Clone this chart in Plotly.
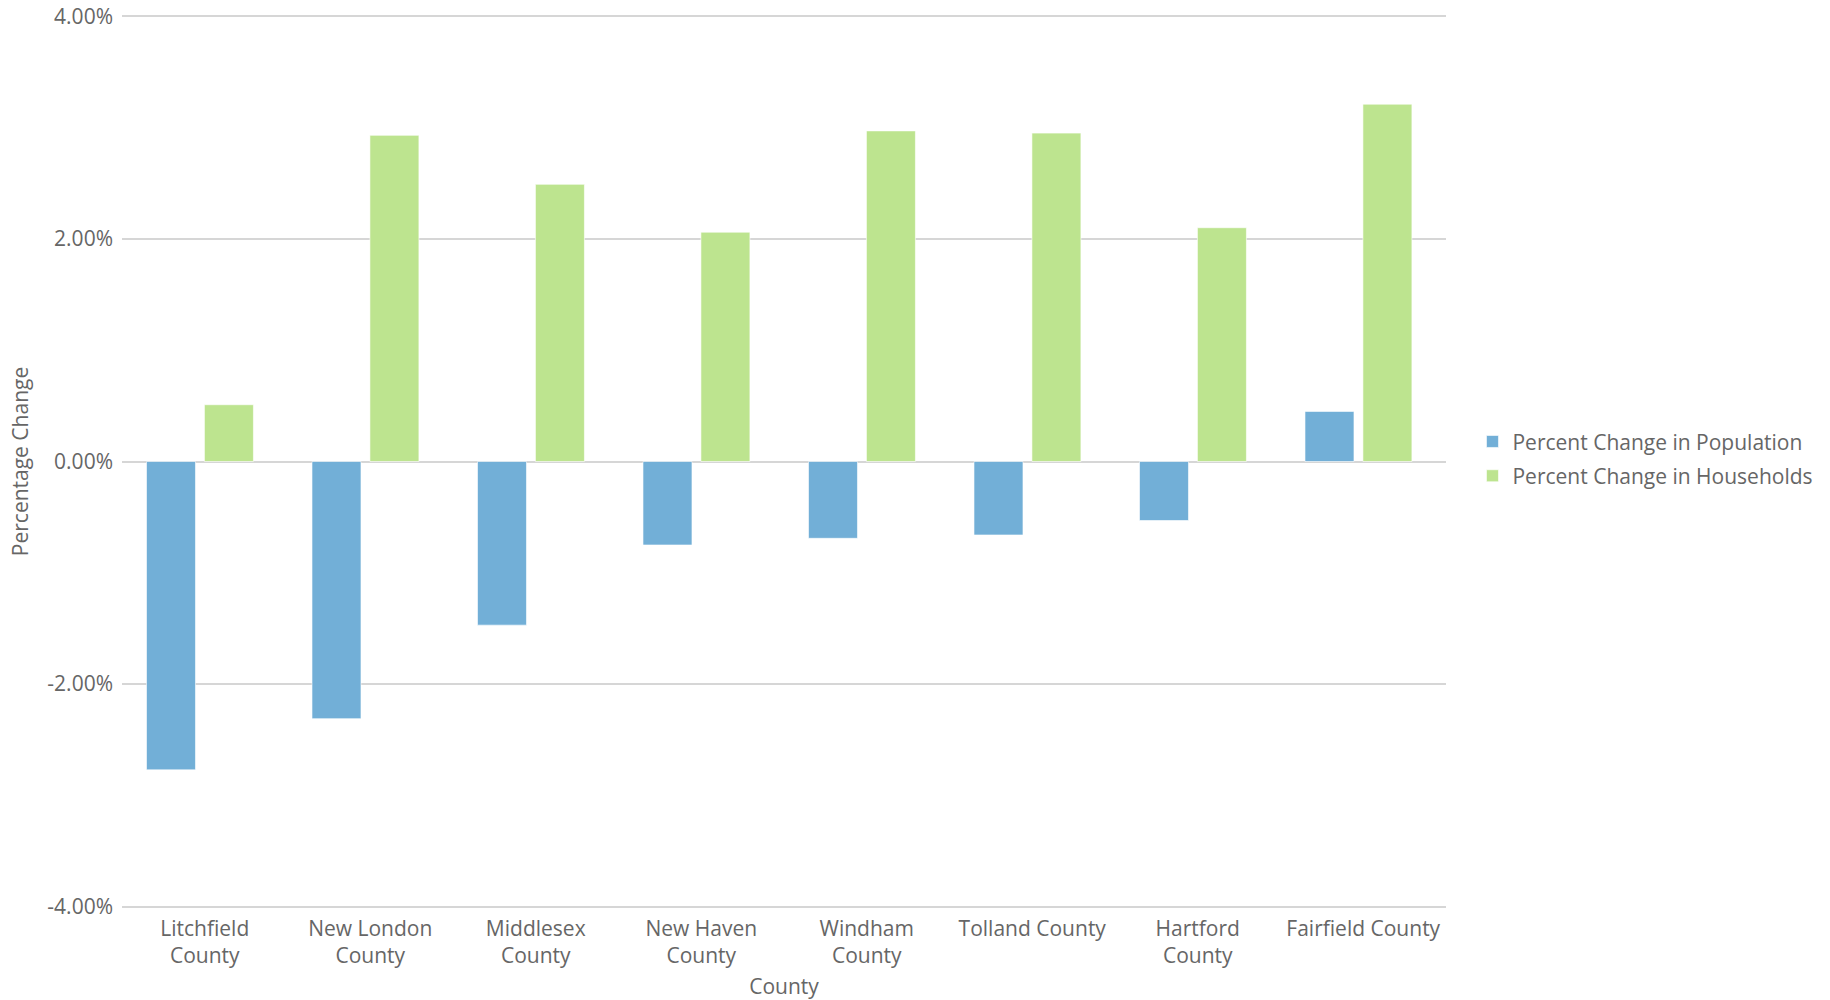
import plotly.graph_objects as go

counties = ["Litchfield County", "New London County", "Middlesex County", "New Haven County",
            "Windham County", "Tolland County", "Hartford County", "Fairfield County"]
tick_labels = ["Litchfield<br>County", "New London<br>County", "Middlesex<br>County", "New Haven<br>County",
               "Windham<br>County", "Tolland County", "Hartford<br>County", "Fairfield County"]
pop_change = [-2.77, -2.31, -1.47, -0.75, -0.69, -0.66, -0.53, 0.45]
hh_change = [0.51, 2.93, 2.49, 2.06, 2.97, 2.95, 2.10, 3.21]
y_ticks = [-4, -2, 0, 2, 4]
y_tick_labels = ["-4.00%", "-2.00%", "0.00%", "2.00%", "4.00%"]

FONT = "Open Sans"
GRAY = "#666666"
FS = 21

fig = go.Figure()
fig.add_trace(go.Bar(x=counties, y=pop_change, name="Percent Change in Population",
                     width=0.296, offset=-0.352, legendgroup="pop",
                     marker=dict(color="#72afd7", line=dict(color="rgba(255,255,255,0.6)", width=1))))
fig.add_trace(go.Bar(x=counties, y=hh_change, name="Percent Change in Households",
                     width=0.296, offset=-0.002, legendgroup="hh",
                     marker=dict(color="#bde48f", line=dict(color="rgba(255,255,255,0.6)", width=1))))

fig.update_layout(
    width=1830, height=1000,
    margin=dict(l=122, r=382, t=14, b=91),
    paper_bgcolor="white", plot_bgcolor="white",
    font=dict(family=FONT, size=FS, color=GRAY),
    barmode="overlay",
    legend=dict(x=1.02, y=0.503, yanchor="middle", xanchor="left",
                font=dict(family=FONT, size=FS, color=GRAY), tracegroupgap=4),
    xaxis=dict(tickvals=counties, ticktext=tick_labels, showgrid=False, showline=False,
               ticks="", tickfont=dict(size=FS, color=GRAY), automargin=False,
               ticklabelstandoff=5,
               title=dict(text="County", font=dict(size=FS, color=GRAY), standoff=14)),
    yaxis=dict(range=[-4.02, 4.02], tickvals=y_ticks, ticktext=y_tick_labels,
               showgrid=True, gridcolor="#d6d6d6", gridwidth=1.5,
               zeroline=True, zerolinecolor="#d6d6d6", zerolinewidth=1.5,
               showline=False, ticks="", ticklen=0, automargin=False,
               ticklabelstandoff=8,
               tickfont=dict(size=FS, color=GRAY),
               title=dict(text="Percentage Change", font=dict(size=FS, color=GRAY), standoff=12)),
)

fig.write_html("out.html")
